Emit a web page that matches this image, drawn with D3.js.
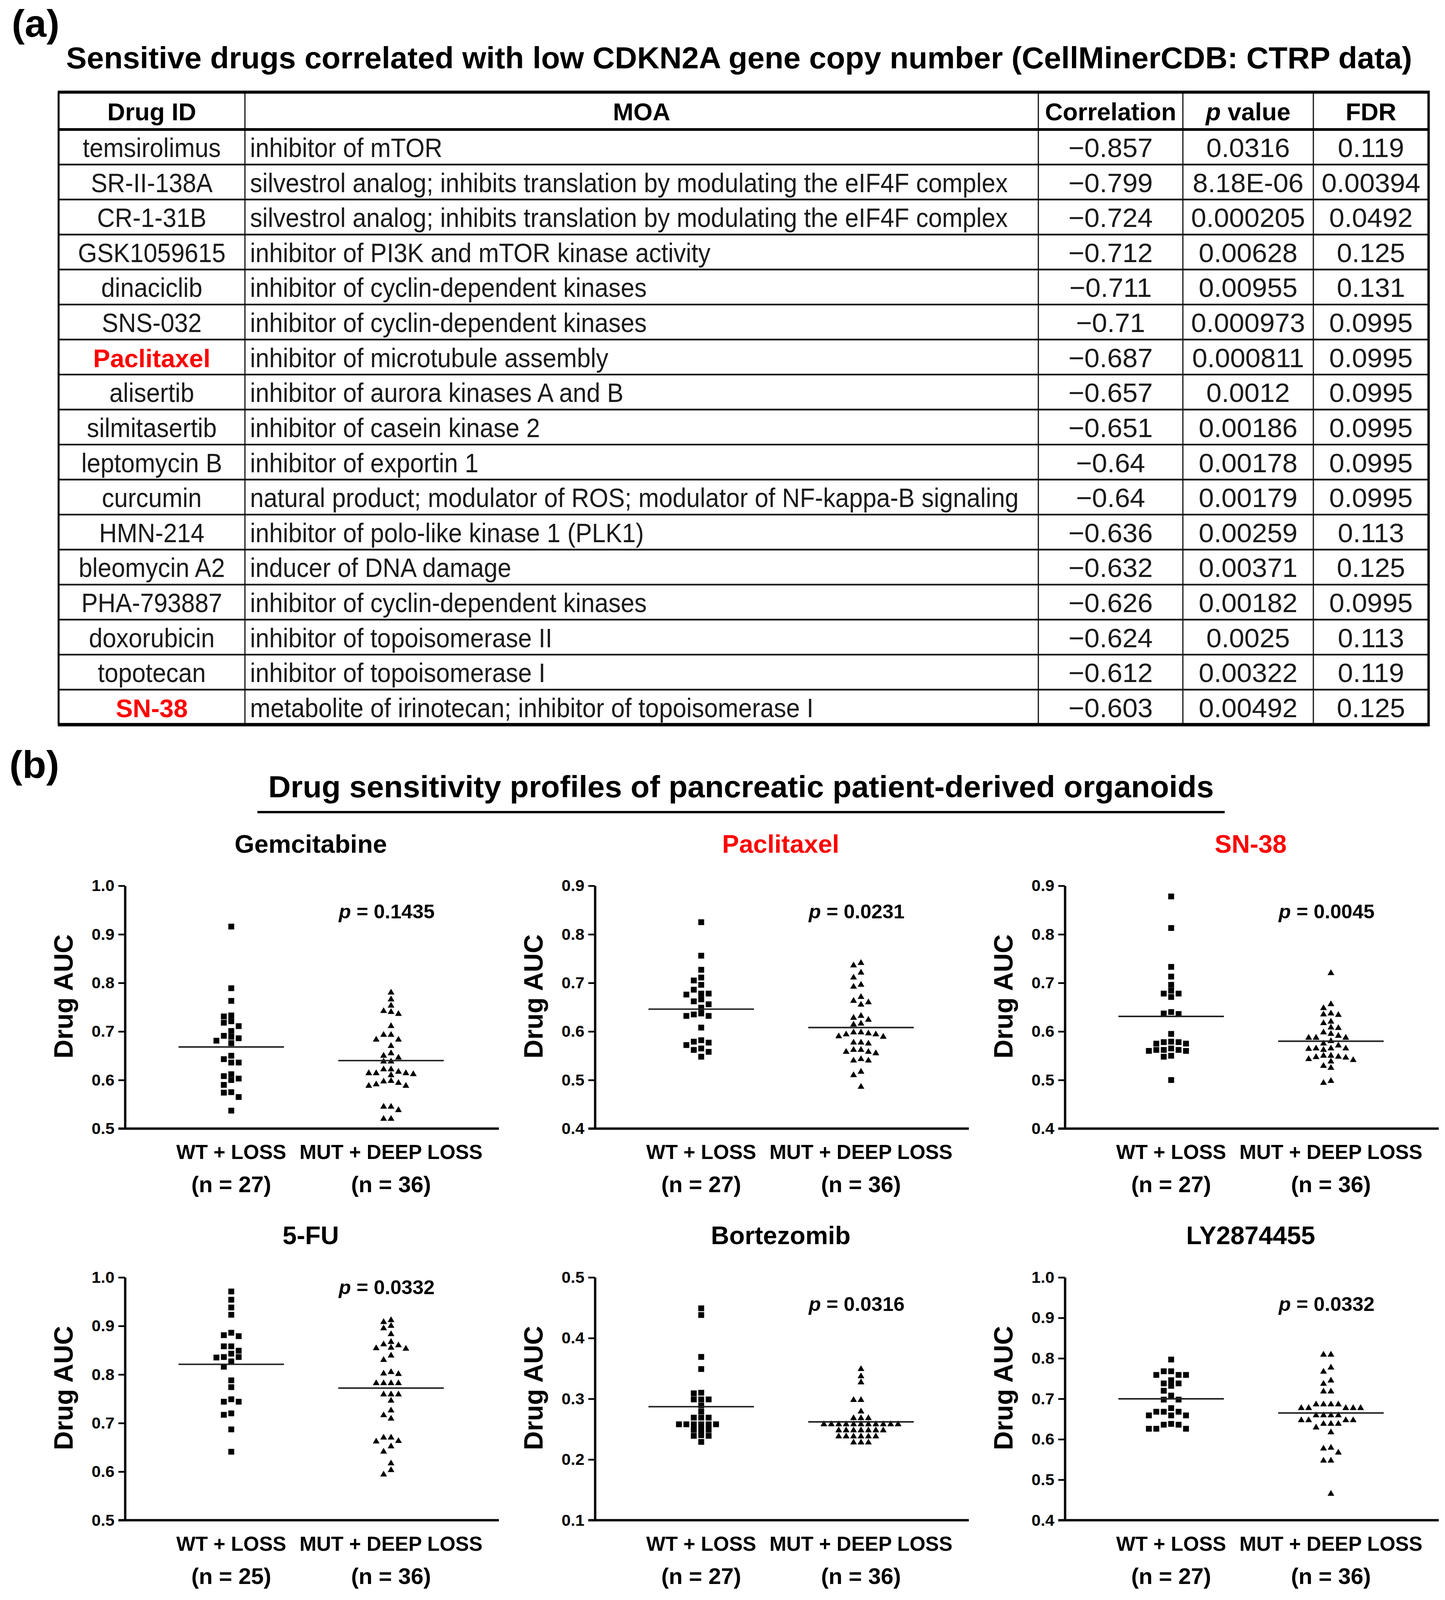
<!DOCTYPE html>
<html lang="en">
<head>
<meta charset="UTF-8">
<title>CDKN2A drug sensitivity</title>
<script src="https://d3js.org/d3.v7.min.js"></script>
<style>
  html, body { margin: 0; padding: 0; background: #fff; overflow: hidden; height: 100%; }
  svg { display: block; width: 100vw; height: 100vh; font-family: "Liberation Sans", Arial, Helvetica, sans-serif; }
</style>
</head>
<body>
<script>
// ---- table (a) ----
const drugIds = ["temsirolimus", "SR-II-138A", "CR-1-31B", "GSK1059615", "dinaciclib", "SNS-032",
  "Paclitaxel", "alisertib", "silmitasertib", "leptomycin B", "curcumin", "HMN-214",
  "bleomycin A2", "PHA-793887", "doxorubicin", "topotecan", "SN-38"];
const moa = ["inhibitor of mTOR",
  "silvestrol analog; inhibits translation by modulating the eIF4F complex",
  "silvestrol analog; inhibits translation by modulating the eIF4F complex",
  "inhibitor of PI3K and mTOR kinase activity",
  "inhibitor of cyclin-dependent kinases",
  "inhibitor of cyclin-dependent kinases",
  "inhibitor of microtubule assembly",
  "inhibitor of aurora kinases A and B",
  "inhibitor of casein kinase 2",
  "inhibitor of exportin 1",
  "natural product; modulator of ROS; modulator of NF-kappa-B signaling",
  "inhibitor of polo-like kinase 1 (PLK1)",
  "inducer of DNA damage",
  "inhibitor of cyclin-dependent kinases",
  "inhibitor of topoisomerase II",
  "inhibitor of topoisomerase I",
  "metabolite of irinotecan; inhibitor of topoisomerase I"];
const correlation = [-0.857, -0.799, -0.724, -0.712, -0.711, -0.71, -0.687, -0.657, -0.651,
  -0.64, -0.64, -0.636, -0.632, -0.626, -0.624, -0.612, -0.603];
const pValue = ["0.0316", "8.18E-06", "0.000205", "0.00628", "0.00955", "0.000973", "0.000811",
  "0.0012", "0.00186", "0.00178", "0.00179", "0.00259", "0.00371", "0.00182", "0.0025",
  "0.00322", "0.00492"];
const fdr = [0.119, 0.00394, 0.0492, 0.125, 0.131, 0.0995, 0.0995, 0.0995, 0.0995, 0.0995,
  0.0995, 0.113, 0.125, 0.0995, 0.113, 0.119, 0.125];
const highlighted = ["Paclitaxel", "SN-38"];

// ---- dot plots (b) ----
const panelTitles = ["Gemcitabine", "Paclitaxel", "SN-38", "5-FU", "Bortezomib", "LY2874455"];
const yDomains = [[0.5, 1.0], [0.4, 0.9], [0.4, 0.9], [0.5, 1.0], [0.1, 0.5], [0.4, 1.0]];
const groupLabels = ["WT + LOSS", "MUT + DEEP LOSS"];
const nWT = [27, 27, 27, 25, 27, 27];
const nMUT = [36, 36, 36, 36, 36, 36];
const pLabels = ["0.1435", "0.0231", "0.0045", "0.0332", "0.0316", "0.0332"];
const meanWT = [0.668, 0.646, 0.631, 0.821, 0.287, 0.700];
const meanMUT = [0.640, 0.608, 0.580, 0.772, 0.262, 0.665];

const gemcitabineWT = [0.916, 0.789, 0.763, 0.733, 0.731, 0.721, 0.718, 0.711, 0.701, 0.691, 0.689,
  0.686, 0.681, 0.676, 0.650, 0.643, 0.636, 0.636, 0.612, 0.608, 0.603, 0.600, 0.590, 0.575, 0.574,
  0.565, 0.537];
const gemcitabineMUT = [0.780, 0.766, 0.753, 0.742, 0.740, 0.736, 0.711, 0.693, 0.693, 0.683, 0.683,
  0.670, 0.655, 0.650, 0.646, 0.638, 0.638, 0.622, 0.622, 0.617, 0.614, 0.614, 0.614, 0.612, 0.610,
  0.598, 0.597, 0.594, 0.591, 0.588, 0.588, 0.545, 0.545, 0.538, 0.520, 0.520];
const paclitaxelWT = [0.825, 0.756, 0.727, 0.711, 0.705, 0.696, 0.686, 0.678, 0.676, 0.678, 0.666,
  0.662, 0.656, 0.649, 0.637, 0.635, 0.632, 0.632, 0.608, 0.582, 0.579, 0.577, 0.572, 0.565, 0.562,
  0.558, 0.548];
const paclitaxelMUT = [0.741, 0.736, 0.721, 0.711, 0.696, 0.692, 0.671, 0.663, 0.660, 0.655, 0.632,
  0.628, 0.624, 0.616, 0.614, 0.598, 0.598, 0.596, 0.594, 0.594, 0.590, 0.589, 0.577, 0.577, 0.575,
  0.562, 0.562, 0.558, 0.558, 0.555, 0.543, 0.540, 0.540, 0.517, 0.510, 0.486];
const sn38WT = [0.878, 0.813, 0.733, 0.713, 0.696, 0.684, 0.678, 0.678, 0.671, 0.640, 0.637, 0.636,
  0.595, 0.579, 0.578, 0.578, 0.575, 0.575, 0.565, 0.562, 0.562, 0.562, 0.560, 0.560, 0.550, 0.548,
  0.500];
const sn38MUT = [0.720, 0.656, 0.648, 0.637, 0.635, 0.634, 0.620, 0.617, 0.608, 0.607, 0.598, 0.595,
  0.591, 0.587, 0.587, 0.587, 0.580, 0.575, 0.571, 0.565, 0.565, 0.564, 0.562, 0.565, 0.550, 0.548,
  0.543, 0.546, 0.547, 0.550, 0.538, 0.541, 0.529, 0.525, 0.494, 0.498];
const fluorouracilWT = [0.971, 0.954, 0.938, 0.923, 0.886, 0.881, 0.879, 0.858, 0.858, 0.849, 0.843,
  0.836, 0.836, 0.835, 0.827, 0.816, 0.788, 0.774, 0.749, 0.744, 0.744, 0.720, 0.717, 0.687, 0.641];
const fluorouracilMUT = [0.912, 0.908, 0.900, 0.895, 0.883, 0.867, 0.862, 0.860, 0.854, 0.853, 0.855,
  0.839, 0.830, 0.802, 0.801, 0.805, 0.782, 0.782, 0.782, 0.782, 0.759, 0.759, 0.759, 0.746, 0.726,
  0.716, 0.709, 0.670, 0.663, 0.662, 0.670, 0.652, 0.641, 0.617, 0.603, 0.594];
const bortezomibWT = [0.449, 0.438, 0.369, 0.349, 0.310, 0.309, 0.299, 0.299, 0.299, 0.289, 0.279,
  0.269, 0.269, 0.269, 0.258, 0.258, 0.258, 0.258, 0.258, 0.258, 0.249, 0.249, 0.249, 0.240, 0.239,
  0.239, 0.229];
const bortezomibMUT = [0.349, 0.337, 0.327, 0.298, 0.298, 0.279, 0.268, 0.268, 0.268,
  0.258, 0.258, 0.258, 0.258, 0.258, 0.258, 0.258, 0.258, 0.258, 0.258, 0.258,
  0.248, 0.248, 0.248, 0.248, 0.248, 0.248, 0.248,
  0.238, 0.238, 0.238, 0.238, 0.238, 0.238, 0.228, 0.228, 0.228];
const ly2874455WT = [0.797, 0.768, 0.768, 0.759, 0.759, 0.759, 0.746, 0.738, 0.738, 0.732, 0.720,
  0.708, 0.698, 0.698, 0.677, 0.668, 0.668, 0.668, 0.659, 0.659, 0.659, 0.638, 0.636, 0.636, 0.626,
  0.626, 0.626];
const ly2874455MUT = [0.809, 0.809, 0.777, 0.767, 0.745, 0.737, 0.718, 0.718, 0.686, 0.686, 0.686,
  0.686, 0.677, 0.677, 0.677, 0.677, 0.677, 0.659, 0.659, 0.659, 0.659, 0.647, 0.647, 0.647, 0.647,
  0.638, 0.638, 0.638, 0.629, 0.617, 0.579, 0.577, 0.567, 0.547, 0.547, 0.465];

const wtSeries = [gemcitabineWT, paclitaxelWT, sn38WT, fluorouracilWT, bortezomibWT, ly2874455WT];
const mutSeries = [gemcitabineMUT, paclitaxelMUT, sn38MUT, fluorouracilMUT, bortezomibMUT, ly2874455MUT];

const W = 3699, H = 4151;
const RED = "#ff0000";
// drawn in a fixed 3699x4151 coordinate space, stretched to whatever the viewport is
const svg = d3.select("body").append("svg")
  .attr("viewBox", `0 0 ${W} ${H}`)
  .attr("preserveAspectRatio", "none");

// panel letters and section titles
svg.append("text").attr("x", 30).attr("y", 95).attr("font-size", 100).attr("font-weight", "bold").text("(a)");
svg.append("text").attr("x", 24).attr("y", 2018).attr("font-size", 100).attr("font-weight", "bold").text("(b)");

svg.append("text").attr("x", 1892).attr("y", 177).attr("text-anchor", "middle")
  .attr("font-size", 79).attr("font-weight", "bold")
  .text("Sensitive drugs correlated with low CDKN2A gene copy number (CellMinerCDB: CTRP data)");

svg.append("text").attr("x", 1897).attr("y", 2068).attr("text-anchor", "middle")
  .attr("font-size", 79.5).attr("font-weight", "bold")
  .text("Drug sensitivity profiles of pancreatic patient-derived organoids");
svg.append("line").attr("x1", 659).attr("x2", 3135).attr("y1", 2107).attr("y2", 2107)
  .attr("stroke", "#000").attr("stroke-width", 6);

// ---- table ----
const colEdges = [150, 627, 2658, 3028, 3362, 3657];
const headTop = 239, headBottom = 336, tableBottom = 1880;
const rowY = d3.scaleBand().domain(d3.range(drugIds.length)).range([headBottom, tableBottom]);
const colMid = i => (colEdges[i] + colEdges[i + 1]) / 2;
const tbl = svg.append("g");

// row separators
tbl.selectAll("line.row").data(d3.range(1, drugIds.length)).join("line")
  .attr("x1", colEdges[0]).attr("x2", colEdges[5])
  .attr("y1", d => rowY(d)).attr("y2", d => rowY(d))
  .attr("stroke", "#1a1a1a").attr("stroke-width", 4.5);
// column separators
tbl.selectAll("line.col").data(colEdges.slice(1, 5)).join("line")
  .attr("x1", d => d).attr("x2", d => d).attr("y1", headTop).attr("y2", tableBottom)
  .attr("stroke", "#111").attr("stroke-width", 3);
// frame
const frame = [
  [colEdges[0] - 2, headTop, colEdges[5] + 3, headTop, 8],
  [colEdges[0], headBottom, colEdges[5], headBottom, 7],
  [colEdges[0] - 2, tableBottom, colEdges[5] + 3, tableBottom, 9],
  [colEdges[0], headTop, colEdges[0], tableBottom, 5],
  [colEdges[5], headTop, colEdges[5], tableBottom, 6]
];
tbl.selectAll("line.frame").data(frame).join("line")
  .attr("x1", d => d[0]).attr("y1", d => d[1]).attr("x2", d => d[2]).attr("y2", d => d[3])
  .attr("stroke", "#000").attr("stroke-width", d => d[4]);

// header
const headerBase = (headTop + headBottom) / 2 + 25;
["Drug ID", "MOA", "Correlation", null, "FDR"].forEach((h, i) => {
  if (!h) return;
  tbl.append("text").attr("x", colMid(i)).attr("y", headerBase).attr("text-anchor", "middle")
    .attr("font-size", 63).attr("font-weight", "bold").text(h);
});
const pv = tbl.append("text").attr("x", colMid(3)).attr("y", headerBase).attr("text-anchor", "middle")
  .attr("font-size", 63).attr("font-weight", "bold");
pv.append("tspan").attr("font-style", "italic").text("p");
pv.append("tspan").text(" value");

// body
const rowBase = i => rowY(i) + rowY.bandwidth() / 2 + 26;
drugIds.forEach((d, i) => {
  const hot = highlighted.includes(d);
  const t = tbl.append("text").attr("text-anchor", "middle").text(d);
  if (hot) {
    t.attr("x", colMid(0)).attr("y", rowBase(i)).attr("font-size", 65)
      .attr("font-weight", "bold").attr("fill", RED);
  } else {
    t.attr("transform", `translate(${colMid(0)},${rowBase(i)}) scale(0.9,1)`)
      .attr("font-size", 70).attr("fill", "#1a1a1a");
  }
  tbl.append("text").attr("transform", `translate(${colEdges[1] + 13},${rowBase(i)}) scale(0.9,1)`)
    .attr("font-size", 70).attr("fill", "#1a1a1a").text(moa[i]);
  tbl.append("text").attr("x", colMid(2)).attr("y", rowBase(i)).attr("text-anchor", "middle")
    .attr("font-size", 70).attr("fill", "#1a1a1a").text(String(correlation[i]).replace("-", "\u2212"));
  tbl.append("text").attr("x", colMid(3)).attr("y", rowBase(i)).attr("text-anchor", "middle")
    .attr("font-size", 70).attr("fill", "#1a1a1a").text(pValue[i]);
  tbl.append("text").attr("x", colMid(4)).attr("y", rowBase(i)).attr("text-anchor", "middle")
    .attr("font-size", 70).attr("fill", "#1a1a1a").text(String(fdr[i]));
});

// ---- dot plots ----
const panelLeft = [320, 1523, 2726];
const panelTop = [2298, 3314];
const plotH = 630, axisLen = 957;
const wtOff = 272, mutOff = 681, slotW = 19, halfLine = 135;
const pLabelDy = [85, 85, 85, 44, 87, 87];

// spread points that overlap vertically into side-by-side slots
function swarm(vals, y) {
  const order = d3.range(vals.length).sort((a, b) => d3.descending(vals[a], vals[b]));
  const placed = [];
  const slot = new Array(vals.length);
  order.forEach(i => {
    const yi = y(vals[i]);
    for (let k = 0; k < 60; k++) {
      const s = k === 0 ? 0 : (k % 2 ? -(k + 1) / 2 : k / 2);
      if (!placed.some(p => p.s === s && Math.abs(p.y - yi) < 14)) {
        slot[i] = s;
        placed.push({ s, y: yi });
        break;
      }
    }
  });
  return slot;
}

panelTitles.forEach((title, pi) => {
  const x0 = panelLeft[pi % 3];
  const top = panelTop[Math.floor(pi / 3)];
  const bottom = top + plotH;
  const g = svg.append("g").attr("transform", `translate(${x0},0)`);
  const dom = yDomains[pi];
  const y = d3.scaleLinear().domain(dom).range([bottom, top]);
  const ticks = d3.range(Math.round((dom[1] - dom[0]) * 10) + 1).map(k => +(dom[0] + k / 10).toFixed(1));

  const ax = g.append("g").call(d3.axisLeft(y).tickValues(ticks).tickFormat(d3.format(".1f"))
    .tickSize(17).tickPadding(10).tickSizeOuter(0));
  ax.select(".domain").attr("stroke", "#000").attr("stroke-width", 6);
  ax.selectAll(".tick line").attr("stroke", "#000").attr("stroke-width", 4.5);
  ax.selectAll(".tick text").attr("font-size", 42).attr("font-weight", "bold").attr("fill", "#000")
    .attr("font-family", "'Liberation Sans', Arial, sans-serif");

  g.append("line").attr("x1", -17).attr("x2", axisLen).attr("y1", bottom).attr("y2", bottom)
    .attr("stroke", "#000").attr("stroke-width", 6);

  g.append("text").attr("x", axisLen / 2 - 3).attr("y", top - 86).attr("text-anchor", "middle")
    .attr("font-size", 65).attr("font-weight", "bold")
    .attr("fill", highlighted.includes(title) ? RED : "#000").text(title);

  g.append("text").attr("transform", `translate(-134,${(top + bottom) / 2 - 28}) rotate(-90)`)
    .attr("text-anchor", "middle").attr("font-size", 68).attr("font-weight", "bold").text("Drug AUC");

  const pt = g.append("text").attr("x", 670).attr("y", top + pLabelDy[pi]).attr("text-anchor", "middle")
    .attr("font-size", 51).attr("font-weight", "bold");
  pt.append("tspan").attr("font-style", "italic").text("p");
  pt.append("tspan").text(" = " + pLabels[pi]);

  [[wtOff, groupLabels[0], nWT[pi]], [mutOff, groupLabels[1], nMUT[pi]]].forEach(([cx, lab, n]) => {
    g.append("text").attr("x", cx).attr("y", bottom + 79).attr("text-anchor", "middle")
      .attr("font-size", 52).attr("font-weight", "bold").text(lab);
    g.append("text").attr("x", cx).attr("y", bottom + 165).attr("text-anchor", "middle")
      .attr("font-size", 58).attr("font-weight", "bold").text(`(n = ${n})`);
  });

  // squares: WT + LOSS
  const wt = wtSeries[pi];
  const wtSlot = swarm(wt, y);
  g.selectAll("rect.pt").data(wt).join("rect")
    .attr("x", (d, i) => wtOff + wtSlot[i] * slotW - 7.5).attr("y", d => y(d) - 7.5)
    .attr("width", 15).attr("height", 15).attr("fill", "#000");

  // triangles: MUT + DEEP LOSS
  const mut = mutSeries[pi];
  const mutSlot = swarm(mut, y);
  const tri = d3.symbol().type(d3.symbolTriangle).size(130);
  g.selectAll("path.pt").data(mut).join("path")
    .attr("d", tri)
    .attr("transform", (d, i) => `translate(${mutOff + mutSlot[i] * slotW},${y(d)})`)
    .attr("fill", "#000");

  // group means
  [[wtOff, meanWT[pi]], [mutOff, meanMUT[pi]]].forEach(([cx, m]) => {
    g.append("line").attr("x1", cx - halfLine).attr("x2", cx + halfLine)
      .attr("y1", y(m)).attr("y2", y(m)).attr("stroke", "#222").attr("stroke-width", 4);
  });
});
</script>
</body>
</html>
